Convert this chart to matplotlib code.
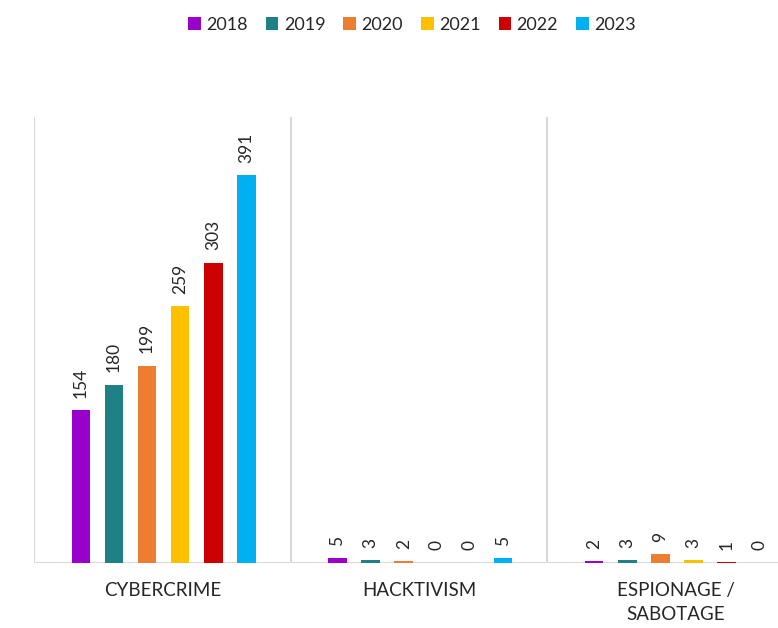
import matplotlib
matplotlib.use("Agg")
import matplotlib.pyplot as plt
import numpy as np

categories = ["CYBERCRIME", "HACKTIVISM", "ESPIONAGE /\nSABOTAGE"]
years = ["2018", "2019", "2020", "2021", "2022", "2023"]
v2018 = [154, 5, 2]
v2019 = [180, 3, 3]
v2020 = [199, 2, 9]
v2021 = [259, 0, 3]
v2022 = [303, 0, 1]
v2023 = [391, 5, 0]
series = [v2018, v2019, v2020, v2021, v2022, v2023]
colors = ["#9900cc", "#1f8185", "#ed7d31", "#ffc000", "#cc0000", "#00b0f0"]

plt.rcParams['font.family'] = ['Lato', 'DejaVu Sans']

W, H = 778, 628
fig = plt.figure(figsize=(W / 100, H / 100), dpi=100)
left, right, top, bottom = 34, 804, 117, 563
ax = fig.add_axes([left / W, 1 - bottom / H, (right - left) / W, (bottom - top) / H])

x = np.arange(len(categories))
step = 0.129
width = 0.072
for i, (vals, c, yr) in enumerate(zip(series, colors, years)):
    pos = x + (i - 2.5) * step + 0.005
    ax.bar(pos, vals, width, color=c, label=yr, zorder=3)
    for p, v in zip(pos, vals):
        ax.annotate(str(v), (p, v), xytext=(0, 9), textcoords="offset points",
                    rotation=90, ha="center", va="bottom", fontsize=12.5,
                    color="#262626")

ax.set_xlim(-0.5, 2.5)
ax.set_ylim(0, 450)
for s in ax.spines.values():
    s.set_visible(False)
for xv in [-0.5, 0.5, 1.5, 2.5]:
    ax.axvline(xv, color="#d9d9d9", lw=1.5, zorder=1)
ax.axhline(0, color="#d9d9d9", lw=1.5, zorder=2)
ax.set_yticks([])
ax.set_xticks(x)
ax.set_xticklabels(categories, fontsize=13.5, color="#262626", linespacing=1.5, va="top")
ax.tick_params(axis="x", length=0, pad=14)

handles, labels = ax.get_legend_handles_labels()
fig.legend(handles, labels, loc="center", bbox_to_anchor=(412 / W, 1 - 25 / H),
           ncol=6, frameon=False, fontsize=13, handlelength=0.7, handleheight=0.7,
           handletextpad=0.3, columnspacing=1.0, labelcolor="#262626")

fig.savefig("out.png", dpi=100)
